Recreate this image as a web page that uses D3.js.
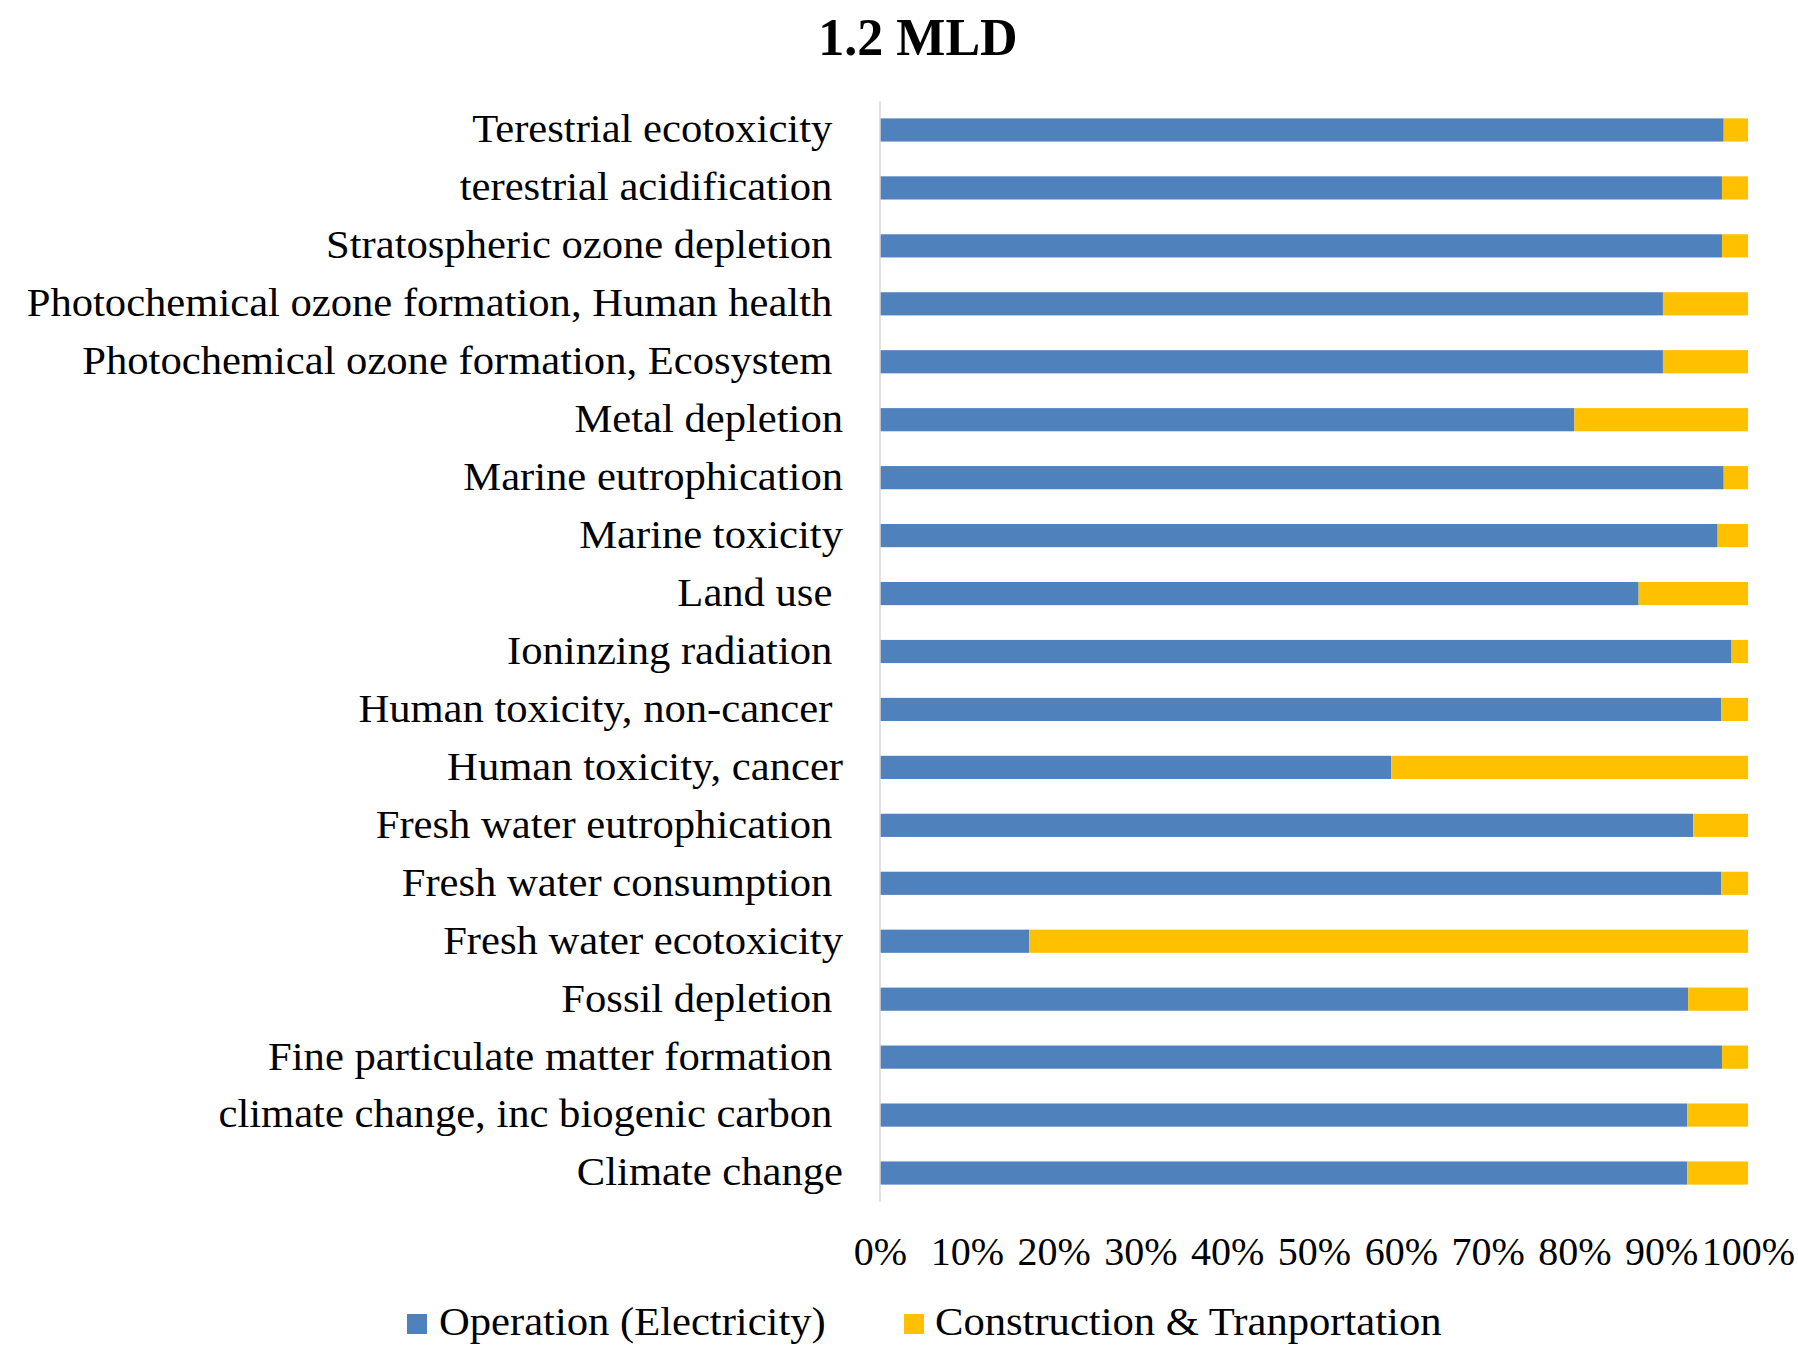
<!DOCTYPE html>
<html>
<head>
<meta charset="utf-8">
<script src="https://cdn.jsdelivr.net/npm/d3@7"></script>
<style>
  html, body { margin: 0; padding: 0; background: #fff; }
  svg text { font-family: "Liberation Serif", "Times New Roman", serif; fill: #000; white-space: pre; }
</style>
</head>
<body>
<svg id="chart" width="1798" height="1345"></svg>
<script>
// ---- data (top-to-bottom order as shown) ----
const categories = [
  "Terestrial ecotoxicity ",
  "terestrial acidification ",
  "Stratospheric ozone depletion ",
  "Photochemical ozone formation, Human health ",
  "Photochemical ozone formation, Ecosystem ",
  "Metal depletion",
  "Marine eutrophication",
  "Marine toxicity",
  "Land use ",
  "Ioninzing radiation ",
  "Human toxicity, non-cancer ",
  "Human toxicity, cancer",
  "Fresh water eutrophication ",
  "Fresh water consumption ",
  "Fresh water ecotoxicity",
  "Fossil depletion ",
  "Fine particulate matter formation ",
  "climate change, inc biogenic carbon ",
  "Climate change"
];
const operation = [97.2, 97.0, 97.0, 90.2, 90.2, 80.0, 97.2, 96.5, 87.4, 98.1, 96.9, 58.9, 93.7, 96.9, 17.2, 93.1, 97.0, 93.0, 93.0];
const construction = [2.8, 3.0, 3.0, 9.8, 9.8, 20.0, 2.8, 3.5, 12.6, 1.9, 3.1, 41.1, 6.3, 3.1, 82.8, 6.9, 3.0, 7.0, 7.0];
const seriesNames = ["Operation (Electricity)", "Construction & Tranportation"];
const seriesColors = ["#4F81BD", "#FFC000"];
const tickValues = [0, 10, 20, 30, 40, 50, 60, 70, 80, 90, 100];
const tickLabels = ["0%", "10%", "20%", "30%", "40%", "50%", "60%", "70%", "80%", "90%", "100%"];
const title = "1.2 MLD";

// ---- layout ----
const svg = d3.select("#chart");
const plot = { left: 880, right: 1748, top: 101, bottom: 1202 };
const stretch = 1.065;

const rows = categories.map((c, i) => ({ cat: c, op: operation[i], con: construction[i] }));
const stack = d3.stack().keys(["op", "con"]);
const stacked = stack(rows);

const x = d3.scaleLinear().domain([0, 100]).range([plot.left, plot.right]);
const y = d3.scaleBand().domain(categories).range([plot.top, plot.bottom]).paddingInner(0.6).paddingOuter(0.3);

function widen(sel) {
  sel.each(function () {
    const w = this.getComputedTextLength();
    d3.select(this).attr("textLength", w * stretch).attr("lengthAdjust", "spacingAndGlyphs");
  });
}

// title
svg.append("text")
  .attr("x", 918).attr("y", 55)
  .attr("text-anchor", "middle")
  .style("font-size", "52px").style("font-weight", "bold")
  .text(title);

// bars
svg.append("g").selectAll("g")
  .data(stacked)
  .join("g")
  .attr("fill", (d, i) => seriesColors[i])
  .selectAll("rect")
  .data(d => d)
  .join("rect")
  .attr("x", d => x(d[0]))
  .attr("y", d => y(d.data.cat))
  .attr("width", d => x(d[1]) - x(d[0]))
  .attr("height", y.bandwidth());

// vertical axis line
svg.append("line")
  .attr("x1", plot.left).attr("x2", plot.left)
  .attr("y1", plot.top).attr("y2", plot.bottom)
  .attr("stroke", "#D9D9D9").attr("stroke-width", 1.5);

// category labels
svg.append("g").selectAll("text")
  .data(categories)
  .join("text")
  .attr("x", 843)
  .attr("y", d => y(d) + y.bandwidth() / 2)
  .attr("dy", "0.31em")
  .attr("text-anchor", "end")
  .style("font-size", "40px")
  .text(d => d)
  .call(widen);

// x tick labels
const xAxis = d3.axisBottom(x).tickValues(tickValues).tickFormat((d, i) => tickLabels[i]).tickSize(0).tickPadding(0);
const gx = svg.append("g").attr("transform", `translate(0, 1265)`).call(xAxis);
gx.select(".domain").remove();
gx.selectAll("text")
  .attr("y", 0).attr("dy", 0)
  .style("font-size", "40px")
  .style("font-family", "'Liberation Serif', 'Times New Roman', serif")
  .attr("fill", "#000");

// legend
const legendItems = [
  { name: seriesNames[0], color: seriesColors[0], sx: 407, tx: 439 },
  { name: seriesNames[1], color: seriesColors[1], sx: 904, tx: 935 }
];
const lg = svg.append("g");
lg.selectAll("rect")
  .data(legendItems)
  .join("rect")
  .attr("x", d => d.sx).attr("y", 1314)
  .attr("width", 20).attr("height", 20)
  .attr("fill", d => d.color);
lg.selectAll("text")
  .data(legendItems)
  .join("text")
  .attr("x", d => d.tx).attr("y", 1335)
  .style("font-size", "40px")
  .text(d => d.name)
  .call(widen);
</script>
</body>
</html>
